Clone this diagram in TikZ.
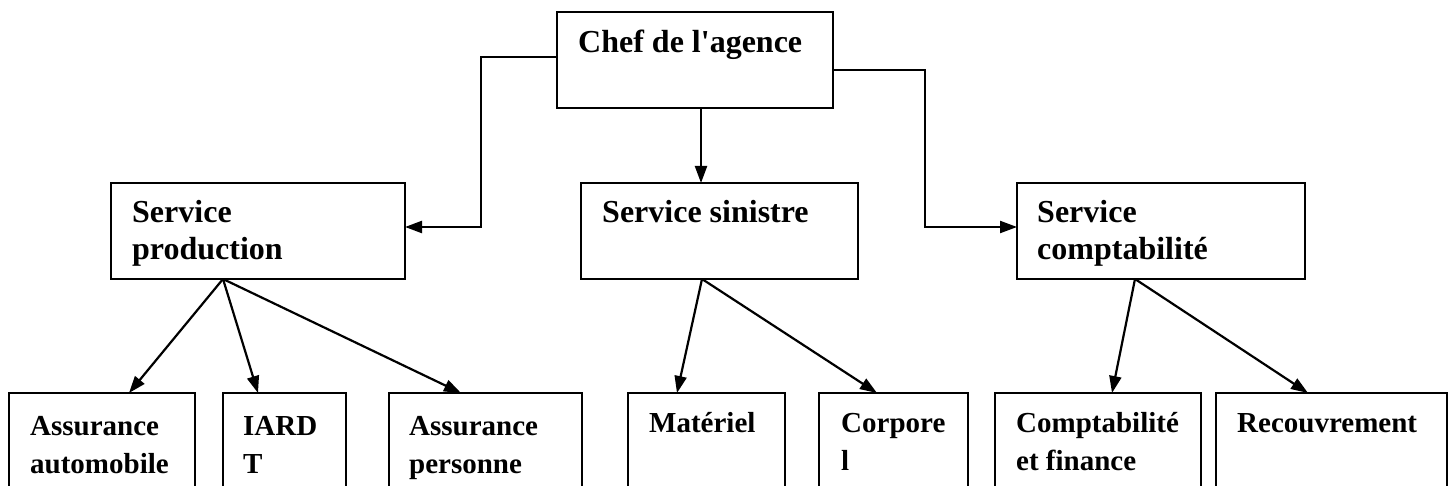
\documentclass[tikz,border=0pt]{standalone}
\usepackage{fontspec}
\setmainfont{Liberation Serif}[Ligatures=TeXOff]
\usetikzlibrary{arrows.meta}
\begin{document}
\begin{tikzpicture}[x=1pt,y=-1pt,
  box/.style={draw,line width=2.2pt,inner sep=0pt,outer sep=0pt,rectangle},
  big/.style={font=\fontsize{32}{37}\selectfont\bfseries,inner sep=0pt,anchor=base west,align=left},
  small/.style={font=\fontsize{29}{38}\selectfont\bfseries,inner sep=0pt,anchor=base west,align=left},
  arr/.style={line width=2.2pt,-{Triangle[length=17pt,width=12pt]}}]
\useasboundingbox (0,0) rectangle (1453,486);
\clip (0,0) rectangle (1453,486);
% top
\node[box,minimum width=276pt,minimum height=96pt] (chef) at (695,60) {};
\node[big] (chef-t) at (578,53) {Chef de l'agence};
% middle row
\node[box,minimum width=294pt,minimum height=96pt] (sp) at (258,231) {};
\node[big] (sp-t) at (132,260) {Service\\production};
\node[box,minimum width=277pt,minimum height=96pt] (ss) at (719.5,231) {};
\node[big] (ss-t) at (602,223) {Service sinistre};
\node[box,minimum width=288pt,minimum height=96pt] (sc) at (1161,231) {};
\node[big] (sc-t) at (1037,260) {Service\\comptabilité};
% bottom row
\node[box,minimum width=186pt,minimum height=120pt] (aa) at (102,453) {};
\node[small] (aa-t) at (30,473) {Assurance\\automobile};
\node[box,minimum width=123pt,minimum height=120pt] (ia) at (284.5,453) {};
\node[small] (ia-t) at (243,473) {IARD\\T};
\node[box,minimum width=193pt,minimum height=120pt] (ap) at (485.5,453) {};
\node[small] (ap-t) at (409,473) {Assurance\\personne};
\node[box,minimum width=157pt,minimum height=120pt] (ma) at (706.5,453) {};
\node[small] (ma-t) at (649,432) {Matériel};
\node[box,minimum width=149pt,minimum height=120pt] (co) at (893.5,453) {};
\node[small] (co-t) at (841,470) {Corpore\\l};
\node[box,minimum width=206pt,minimum height=120pt] (cf) at (1098,453) {};
\node[small] (cf-t) at (1016,470) {Comptabilité\\et finance};
\node[box,minimum width=231pt,minimum height=120pt] (re) at (1331.5,453) {};
\node[small] (re-t) at (1237,432) {Recouvrement};
% connector points
\coordinate (cl) at (557,57);
\coordinate (cr) at (833,70);
\coordinate (cb) at (701,108);
\coordinate (spo) at (223,279);
\coordinate (sso) at (702,279);
\coordinate (sco) at (1135,279);
\coordinate (aai) at (129,393);
\coordinate (iai) at (258,393);
\coordinate (api) at (461,393);
\coordinate (mai) at (677,393);
\coordinate (coi) at (877,393);
\coordinate (cfi) at (1112,393);
\coordinate (rei) at (1308,393);
% connectors
\draw[arr] (cl) -| (481,227) -- (sp.east |- 0,227);
\draw[arr] (cr) -| (925,227) -- (sc.west |- 0,227);
\draw[arr] (cb) -- (ss.north -| cb);
\draw[arr] (spo) -- (aai);
\draw[arr] (spo) -- (iai);
\draw[arr] (spo) -- (api);
\draw[arr] (sso) -- (mai);
\draw[arr] (sso) -- (coi);
\draw[arr] (sco) -- (cfi);
\draw[arr] (sco) -- (rei);
\end{tikzpicture}
\end{document}
